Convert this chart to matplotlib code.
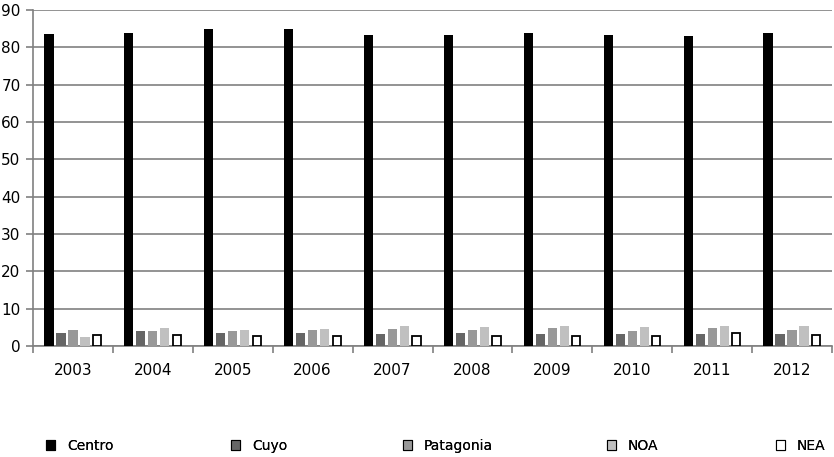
import numpy as np
import matplotlib
matplotlib.use("Agg")
import matplotlib.pyplot as plt
from matplotlib.patches import Patch

years = ["2003", "2004", "2005", "2006", "2007", "2008", "2009", "2010", "2011", "2012"]
centro = [83.6, 83.8, 84.9, 84.9, 83.3, 83.3, 83.8, 83.3, 83.0, 83.8]
cuyo = [3.5, 3.9, 3.5, 3.5, 3.1, 3.5, 3.1, 3.1, 3.1, 3.1]
patagonia = [4.2, 3.9, 3.9, 4.2, 4.5, 4.2, 4.7, 3.9, 4.7, 4.2]
noa = [2.4, 4.8, 4.2, 4.5, 5.4, 5.0, 5.4, 5.0, 5.4, 5.4]
nea = [3.0, 2.9, 2.7, 2.8, 2.7, 2.8, 2.8, 2.8, 3.4, 3.0]

series = [
    ("Centro", centro, "#000000"),
    ("Cuyo", cuyo, "#666666"),
    ("Patagonia", patagonia, "#999999"),
    ("NOA", noa, "#c0c0c0"),
    ("NEA", nea, "#ffffff"),
]

plt.rcParams["font.family"] = ["DejaVu Sans"]
fig = plt.figure(figsize=(8.34, 4.57), dpi=100)
ax = fig.add_axes([0.0396, 0.2429, 0.958, 0.7352])

x = np.arange(len(years))
pitch = 0.15
width = 0.115
for i, (name, vals, col) in enumerate(series):
    offs = (i - 2) * pitch
    if name == "NEA":
        ax.bar(x + offs, vals, width * 0.9, color=col, edgecolor="black",
               linewidth=1.3, zorder=3)
    else:
        ax.bar(x + offs, vals, width, color=col, zorder=3)

ax.set_xlim(-0.5, len(years) - 0.5)
ax.set_ylim(0, 90)
ax.set_yticks(range(0, 91, 10))
ax.yaxis.grid(True, color="#808080", linewidth=1.2)
ax.set_axisbelow(True)

ax.set_xticks(x)
ax.set_xticklabels(years, fontsize=11)
ax.set_xticks(np.arange(-0.5, len(years) + 0.5, 1), minor=True)
ax.tick_params(axis="x", which="major", length=0, pad=12)
ax.tick_params(axis="x", which="minor", length=5, color="#808080", width=1.2)
ax.tick_params(axis="y", length=5, color="#808080", width=1.2, labelsize=11, pad=4)

for s in ["top", "right"]:
    ax.spines[s].set_visible(False)
for s in ["left", "bottom"]:
    ax.spines[s].set_color("#808080")
    ax.spines[s].set_linewidth(1.2)

# one legend entry per region along the bottom edge
entry_x = [46, 231, 403, 607, 776]
for (name, _, col), px in zip(series, entry_x):
    h = Patch(facecolor=col, edgecolor="black", linewidth=0.8, label=name)
    leg = fig.legend(handles=[h], loc="center left",
                     bbox_to_anchor=(px / 834, 1 - 446 / 457),
                     frameon=False, borderpad=0, borderaxespad=0,
                     handlelength=0.65, handleheight=0.65, handletextpad=0.85,
                     prop={"family": "DejaVu Sans", "size": 10})
    fig.add_artist(leg)

fig.savefig("out.png", dpi=100)
